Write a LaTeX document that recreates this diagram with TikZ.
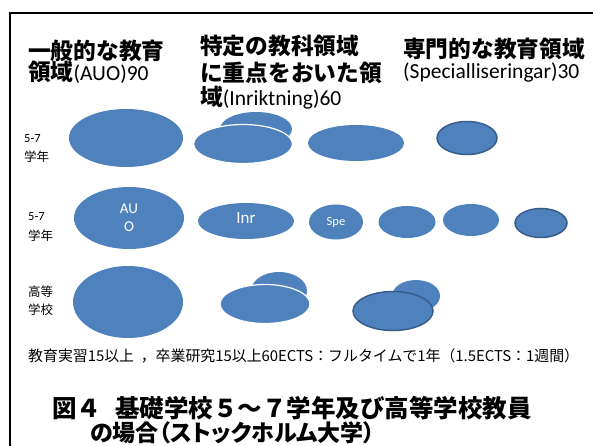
\documentclass[tikz,border=0pt]{standalone}
\usepackage{fontspec}
\setmainfont{Carlito}
\newfontfamily\jp{Noto Sans CJK JP}
\newfontfamily\jpp{Noto Sans CJK JP}[RawFeature=+palt]
\usetikzlibrary{shapes.geometric}
\definecolor{oblue}{HTML}{4F81BD}
\definecolor{odark}{HTML}{385D8A}
\begin{document}
\begin{tikzpicture}[x=1pt,y=-1pt,
  blob/.style={ellipse,fill=oblue,draw=none,inner sep=0pt},
  front/.style={blob,draw=white,line width=1.2pt},
  dark/.style={blob,draw=odark,line width=1.5pt},
  head/.style={anchor=west,inner sep=0pt},
  rowlab/.style={anchor=west,inner sep=0pt,font=\fontsize{12.5}{14}\selectfont},
  intext/.style={text=white,font=\fontsize{15}{18}\selectfont,align=center}]
\useasboundingbox (0,0) rectangle (593,446);
\fill[white] (0,0) rectangle (593,446);
% frame
\draw[line width=2.5pt] (593,13) -- (10,13) -- (10,447);
% headers
\node[head] (h1a) at (28,51) {\fontsize{22.7}{24}\selectfont\jp\bfseries 一般的な教育};
\node[head] (h1b) at (28,72) {\fontsize{22.7}{24}\selectfont{\jp\bfseries 領域}\fontsize{21.5}{22}\selectfont(AUO)90};
\node[head] (h2a) at (200,46) {\fontsize{22.7}{24}\selectfont\jp\bfseries 特定の教科領域};
\node[head] (h2b) at (200,73) {\fontsize{22.7}{24}\selectfont\jp\bfseries に重点をおいた領};
\node[head] (h2c) at (200,98) {\fontsize{22.7}{24}\selectfont{\jp\bfseries 域}\fontsize{21.5}{22}\selectfont(Inriktning)60};
\node[head] (h3a) at (403,49) {\fontsize{22.7}{24}\selectfont\jp\bfseries 専門的な教育領域};
\node[head] (h3b) at (403,72) {\fontsize{21.5}{22}\selectfont(Specialliseringar)30};
% row labels
\node[rowlab] (r1a) at (24,139) {5-7};
\node[rowlab] (r1b) at (24,157) {\jp 学年};
\node[rowlab] (r2a) at (28,217) {5-7};
\node[rowlab] (r2b) at (28,236) {\jp 学年};
\node[rowlab] (r3a) at (28,292) {\jp 高等};
\node[rowlab] (r3b) at (28,310) {\jp 学校};
% row 1
\node[blob,minimum width=114pt,minimum height=58pt] (a1) at (126,138) {};
\node[blob,minimum width=72pt,minimum height=34pt] (b1back) at (256,129) {};
\node[front,minimum width=99pt,minimum height=39pt] (b1) at (243,144) {};
\node[blob,minimum width=96pt,minimum height=36pt] (c1) at (356,143) {};
\node[dark,minimum width=60pt,minimum height=33pt] (d1) at (467,138) {};
% row 2
\node[blob,minimum width=110pt,minimum height=62pt,intext,text width=30pt] (a2) at (129,218) {AU\\O};
\node[blob,minimum width=96pt,minimum height=36pt,intext,font=\fontsize{17}{18}\selectfont] (b2) at (246,221) {\raisebox{5pt}{Inr}};
\node[blob,minimum width=54pt,minimum height=35pt,intext,font=\fontsize{12.5}{14}\selectfont] (c2) at (336,222) {Spe};
\node[blob,minimum width=57pt,minimum height=32pt] (d2) at (407,222) {};
\node[blob,minimum width=56pt,minimum height=32pt] (e2) at (471,220) {};
\node[dark,minimum width=52pt,minimum height=29pt] (f2) at (541,223) {};
% row 3
\node[blob,minimum width=110pt,minimum height=72pt] (a3) at (128,302) {};
\node[blob,minimum width=56pt,minimum height=38pt] (b3back) at (279,291) {};
\node[front,minimum width=90pt,minimum height=39pt] (b3) at (265,304) {};
\node[blob,minimum width=48pt,minimum height=32pt] (c3back) at (416,296) {};
\node[dark,minimum width=80pt,minimum height=39pt] (c3) at (393,311) {};
% footer
\node[head] (foot) at (28,356) {\fontsize{14.9}{16}\selectfont\jp 教育実習15以上\ \ ，卒業研究15以上60ECTS：フルタイムで1年（1.5ECTS：1週間）};
\node[head] (t1) at (52,408) {\fontsize{24.5}{26}\selectfont\jp\bfseries 図４\hspace{14pt}基礎学校５～７学年及び高等学校教員};
\node[head] (t2) at (90,433) {\fontsize{23}{26}\selectfont\jpp\bfseries の場合（ストックホルム大学）};
\end{tikzpicture}
\end{document}
